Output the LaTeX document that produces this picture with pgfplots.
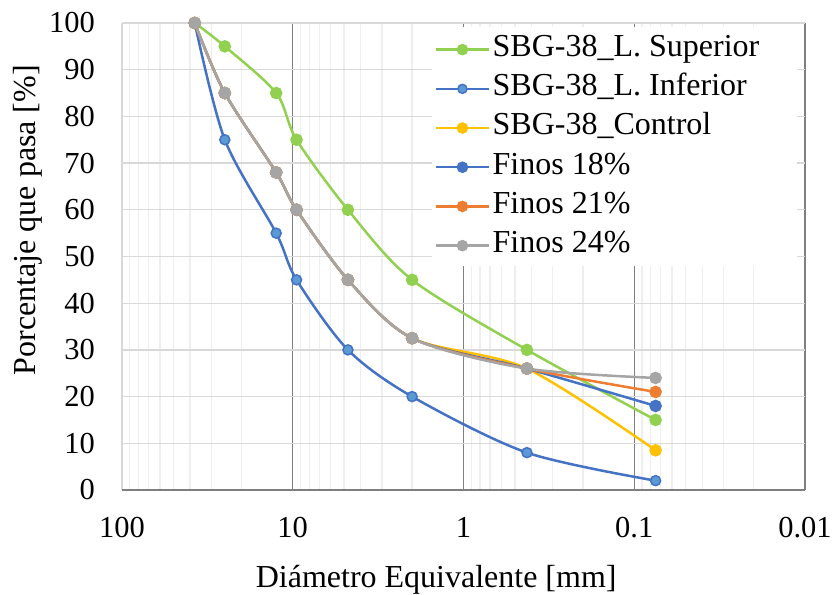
\documentclass[border=0pt]{standalone}
\usepackage{fontspec}
\setmainfont{Liberation Serif}
\usepackage{pgfplots}
\pgfplotsset{compat=1.18}

\definecolor{cGreen}{HTML}{92D050}
\definecolor{cBlue}{HTML}{4472C4}
\definecolor{cBlueFill}{HTML}{5B9BD5}
\definecolor{cYellow}{HTML}{FFC000}
\definecolor{cOrange}{HTML}{ED7D31}
\definecolor{cGray}{HTML}{A5A5A5}
\definecolor{gridMajor}{HTML}{D9D9D9}
\definecolor{gridMinor}{HTML}{EEEEEE}
\definecolor{decade}{HTML}{7F7F7F}

% sieve openings [mm] and percent passing
\pgfplotstableread{
d      sup  inf  ctrl  f18  f21  f24
37.5   100  100  100   100  100  100
25     95   75   85    85   85   85
12.5   85   55   68    68   68   68
9.5    75   45   60    60   60   60
4.75   60   30   45    45   45   45
2      45   20   32.5  32.5 32.5 32.5
0.425  30   8    26    26   26   26
0.075  15   2    8.5   18   21   24
}\granulometria

\begin{document}
\begin{tikzpicture}
\useasboundingbox (-122bp,-105bp) rectangle (711bp,490bp);
\begin{axis}[
  scale only axis, width=683bp, height=467bp,
  at={(0,0)}, anchor=south west,
  xmode=log, x dir=reverse, xmin=0.01, xmax=100,
  ymin=0, ymax=100, ytick={0,10,...,100},
  xtick={10,1,0.1,0.01}, xticklabels={10,1,0.1,0.01},
  extra x ticks={100}, extra x tick labels={100},
  extra x tick style={major x grid style={gridMajor, line width=1.3bp}},
  minor xtick={20,30,40,50,60,70,80,90,2,3,4,5,6,7,8,9,
    0.2,0.3,0.4,0.5,0.6,0.7,0.8,0.9,0.02,0.03,0.04,0.05,0.06,0.07,0.08,0.09},
  xmajorgrids, xminorgrids, ymajorgrids,
  major x grid style={decade, line width=1.3bp},
  minor x grid style={gridMinor, line width=1.3bp},
  major y grid style={gridMajor, line width=1.3bp},
  major tick length=0pt, minor tick length=0pt,
  axis line style={draw=none},
  clip=false,
  /pgf/number format/assume math mode=true,
  tick label style={font=\fontsize{30.5bp}{36bp}\selectfont, inner sep=0pt},
  x tick label style={anchor=north, yshift=-27bp},
  y tick label style={anchor=east, xshift=-27bp},
  xlabel={Diámetro Equivalente [mm]},
  ylabel={Porcentaje que pasa [\%]},
  label style={font=\fontsize{32bp}{38bp}\selectfont, inner sep=0pt},
  xlabel style={at={(axis description cs:0.46,-0.2077)}, anchor=base},
  ylabel style={at={(axis description cs:-0.1171,0.578)}, anchor=south},
  every axis plot/.append style={line width=2.5bp, smooth, mark=*, mark size=5bp},
  legend style={at={(0.4568,0.9875)}, anchor=north west, draw=none, fill=white,
    inner sep=1bp, font=\fontsize{32bp}{38bp}\selectfont, row sep=0pt,
    nodes={inner ysep=0pt, inner xsep=3bp, text height=26.5bp, text depth=12.7bp}},
  legend cell align=left,
  legend image code/.code={\draw[mark repeat=2,mark phase=2,mark size=4.5bp,#1]
    plot coordinates {(0bp,0bp)(26bp,0bp)(52bp,0bp)};},
]
% blank panel behind the legend
\fill[white] (rel axis cs:0.454,0.488) rectangle (rel axis cs:0.988,0.992);
% axis lines
\draw[gridMajor, line width=1.3bp] (rel axis cs:0,0) -- (rel axis cs:0,1);
\draw[decade, line width=1.3bp] (rel axis cs:0,0) -- (rel axis cs:1,0);

\addplot[cGreen, mark options={fill=cGreen, draw=cGreen}] table[x=d, y=sup] {\granulometria};
\addlegendentry{SBG-38\_L. Superior}
\addplot[cBlue, mark options={fill=cBlueFill, draw=cBlue, line width=1.5bp}] table[x=d, y=inf] {\granulometria};
\addlegendentry{SBG-38\_L. Inferior}
\addplot[cYellow, mark options={fill=cYellow, draw=cYellow}] table[x=d, y=ctrl] {\granulometria};
\addlegendentry{SBG-38\_Control}
\addplot[cBlue, mark options={fill=cBlue, draw=cBlue}] table[x=d, y=f18] {\granulometria};
\addlegendentry{Finos 18\%}
\addplot[cOrange, mark options={fill=cOrange, draw=cOrange}] table[x=d, y=f21] {\granulometria};
\addlegendentry{Finos 21\%}
\addplot[cGray, mark options={fill=cGray, draw=cGray}] table[x=d, y=f24] {\granulometria};
\addlegendentry{Finos 24\%}
\end{axis}
\end{tikzpicture}
\end{document}
